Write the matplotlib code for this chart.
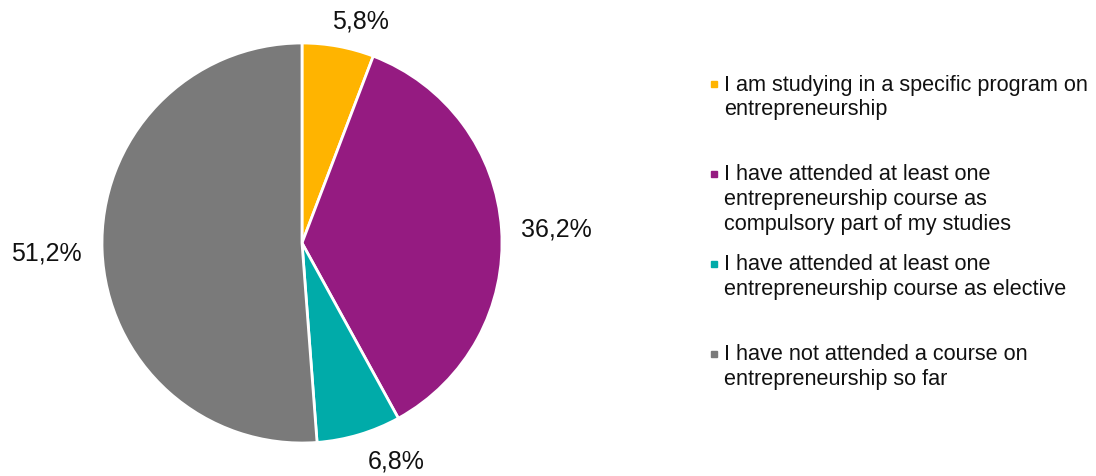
import matplotlib
matplotlib.use("Agg")
from matplotlib import pyplot as plt
from matplotlib.patches import Rectangle

plt.rcParams['font.family'] = ['Liberation Sans', 'DejaVu Sans']

shares = [5.8, 36.2, 6.8, 51.2]
labels = ["I am studying in a specific program on\nentrepreneurship",
          "I have attended at least one\nentrepreneurship course as\ncompulsory part of my studies",
          "I have attended at least one\nentrepreneurship course as elective",
          "I have not attended a course on\nentrepreneurship so far"]
colors = ['#FFB400', '#951B81', '#00ABA9', '#7A7A7A']

# where the value labels sit (data units, pie radius = 1)
label_pos = [(0.29, 1.11), (1.27, 0.07), (0.47, -1.09), (-1.28, -0.05)]
# legend rows, first line y in pixels
legend_y = [85, 175, 265, 355]

fig = plt.figure(figsize=(10.96, 4.77), dpi=100)
W, H = 1096, 477
ax = fig.add_axes([101 / W, (H - 445) / H, 402 / W, 402 / H])
wedges, _ = ax.pie(shares, colors=colors, startangle=90, counterclock=False,
                   radius=1, wedgeprops=dict(edgecolor='white', linewidth=2))
ax.set_xlim(-1.005, 1.005)
ax.set_ylim(-1.005, 1.005)
ax.set_aspect('equal')
ax.axis('off')

for v, (x, y) in zip(shares, label_pos):
    ax.text(x, y, f"{v:.1f}%".replace('.', ','), ha='center', va='center',
            fontsize=18, color='#111111', clip_on=False)

for lab, c, y in zip(labels, colors, legend_y):
    fig.patches.append(Rectangle((711 / W, (H - y - 3) / H), 6 / W, 6 / H,
                                 transform=fig.transFigure, color=c))
    for i, ln in enumerate(lab.split('\n')):
        fig.text(724 / W, (H - y - i * 25) / H, ln, ha='left', va='center',
                 fontsize=15.6, color='#111111')

fig.savefig('out.png', dpi=100)
